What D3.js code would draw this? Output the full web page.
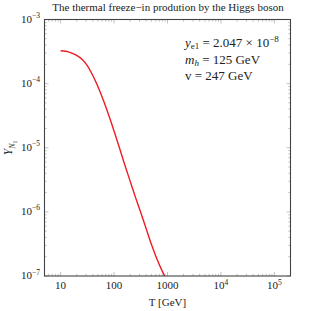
<!DOCTYPE html>
<html>
<head>
<meta charset="utf-8">
<script src="https://cdn.jsdelivr.net/npm/d3@7"></script>
<style>
  body { margin: 0; background: #fff; }
  text { font-family: "Liberation Serif", "DejaVu Serif", serif; fill: #222; }
</style>
</head>
<body>
<svg id="chart" width="311" height="311"></svg>
<script>
// curve: temperature [GeV] and log10 of the yield
const temps = [10, 12.6, 15.8, 20, 25.1, 31.6, 39.8, 50.1, 63.1, 79.4, 100, 126, 158, 200, 251, 316, 398, 501, 631, 794, 1000];
const logYield = [-3.487, -3.495, -3.52, -3.56, -3.62, -3.72, -3.87, -4.05, -4.26, -4.49, -4.74, -5.0, -5.26, -5.52, -5.77, -6.01, -6.26, -6.51, -6.73, -6.92, -7.09];

const xTickValues = [10, 100, 1000, 1e4, 1e5];
const xTickLabels = ['10', '100', '1000', ['10', '4'], ['10', '5']];
const yTickValues = [1e-7, 1e-6, 1e-5, 1e-4, 1e-3];
const yTickLabels = ['-7', '-6', '-5', '-4', '-3'];

const svg = d3.select('#chart');
const margin = { top: 19.5, right: 20.5, bottom: 35, left: 44.5 };
const width = 311 - margin.left - margin.right;
const height = 311 - margin.top - margin.bottom;

const xScale = d3.scaleLog().domain([5, 2e5]).range([0, width]);
const yScale = d3.scaleLog().domain([1e-7, 1e-3]).range([height, 0]);

const g = svg.append('g')
    .attr('transform', `translate(${margin.left}, ${margin.top})`);

// minor + major ticks, inside the frame on all four sides
const tickColor = '#999';
const xMinor = [];
for (let e = 0; e <= 5; e++) for (let m = 1; m < 10; m++) {
    let v = m * Math.pow(10, e);
    if (v >= 5 && v <= 2e5) xMinor.push(v);
}
const yMinor = [];
for (let e = -7; e < -3; e++) for (let m = 1; m < 10; m++) yMinor.push(m * Math.pow(10, e));

xMinor.forEach(v => {
    let major = xTickValues.indexOf(v) >= 0;
    let len = major ? 4 : 2.2;
    g.append('line').attr('x1', xScale(v)).attr('x2', xScale(v))
        .attr('y1', height).attr('y2', height - len)
        .attr('stroke', tickColor).attr('stroke-width', 0.6);
    g.append('line').attr('x1', xScale(v)).attr('x2', xScale(v))
        .attr('y1', 0).attr('y2', len)
        .attr('stroke', tickColor).attr('stroke-width', 0.6);
});
yMinor.forEach(v => {
    let major = yTickValues.indexOf(v) >= 0;
    let len = major ? 4 : 2.2;
    g.append('line').attr('y1', yScale(v)).attr('y2', yScale(v))
        .attr('x1', 0).attr('x2', len)
        .attr('stroke', tickColor).attr('stroke-width', 0.6);
    g.append('line').attr('y1', yScale(v)).attr('y2', yScale(v))
        .attr('x1', width).attr('x2', width - len)
        .attr('stroke', tickColor).attr('stroke-width', 0.6);
});

// curve
g.append('clipPath').attr('id', 'clip')
    .append('rect').attr('width', width).attr('height', height);

const line = d3.line()
    .x((d, i) => xScale(temps[i]))
    .y(d => yScale(Math.pow(10, d)))
    .curve(d3.curveMonotoneX);

g.append('path')
    .datum(logYield)
    .attr('clip-path', 'url(#clip)')
    .attr('d', line)
    .attr('fill', 'none')
    .attr('stroke', '#ee1c24')
    .attr('stroke-width', 1.4);

// frame
g.append('rect').attr('width', width).attr('height', height)
    .attr('fill', 'none').attr('stroke', '#444').attr('stroke-width', 1.1);

// x tick labels
xTickValues.forEach((v, i) => {
    let lab = xTickLabels[i];
    let t = g.append('text').attr('x', xScale(v)).attr('y', height + 13)
        .attr('text-anchor', 'middle').style('font-size', '11px');
    if (Array.isArray(lab)) {
        t.append('tspan').text(lab[0]);
        t.append('tspan').attr('dy', -4.5).style('font-size', '7.5px').text(lab[1]);
    } else {
        t.text(lab);
    }
});

// y tick labels
yTickValues.forEach((v, i) => {
    let t = g.append('text').attr('x', -4.5).attr('y', yScale(v) + 3)
        .attr('text-anchor', 'end').style('font-size', '11px');
    t.append('tspan').text('10');
    t.append('tspan').attr('dy', -4.5).style('font-size', '7.5px').text('\u2212' + yTickLabels[i].slice(1));
});

// axis titles
g.append('text').attr('x', width / 2).attr('y', height + 30)
    .attr('text-anchor', 'middle').style('font-size', '11px').text('T [GeV]');

const yl = svg.append('text')
    .attr('transform', `translate(12, ${margin.top + height / 2}) rotate(-90)`)
    .attr('text-anchor', 'middle').style('font-size', '11.5px');
yl.append('tspan').style('font-style', 'italic').text('Y');
yl.append('tspan').attr('dy', 3).style('font-size', '8px').style('font-style', 'italic').text('N');
yl.append('tspan').attr('dy', 1.5).style('font-size', '6px').text('1');

// title
svg.append('text').attr('x', 168).attr('y', 11)
    .attr('text-anchor', 'middle').style('font-size', '11px')
    .text('The thermal freeze\u2212in prodution by the Higgs boson');

// parameter box
const ann = svg.append('g').attr('transform', 'translate(185, 0)');
const a1 = ann.append('text').attr('y', 47).style('font-size', '13px');
a1.append('tspan').style('font-style', 'italic').text('y');
a1.append('tspan').attr('dy', 2).style('font-size', '9px').text('e1');
a1.append('tspan').attr('dy', -2).text(' = 2.047 \u00d7 10');
a1.append('tspan').attr('dy', -5).style('font-size', '9px').text('\u22128');

const a2 = ann.append('text').attr('y', 64).style('font-size', '13px');
a2.append('tspan').style('font-style', 'italic').text('m');
a2.append('tspan').attr('dy', 2).style('font-size', '9px').style('font-style', 'italic').text('h');
a2.append('tspan').attr('dy', -2).text(' = 125 GeV');

ann.append('text').attr('y', 80).style('font-size', '13px').text('v = 247 GeV');
</script>
</body>
</html>
